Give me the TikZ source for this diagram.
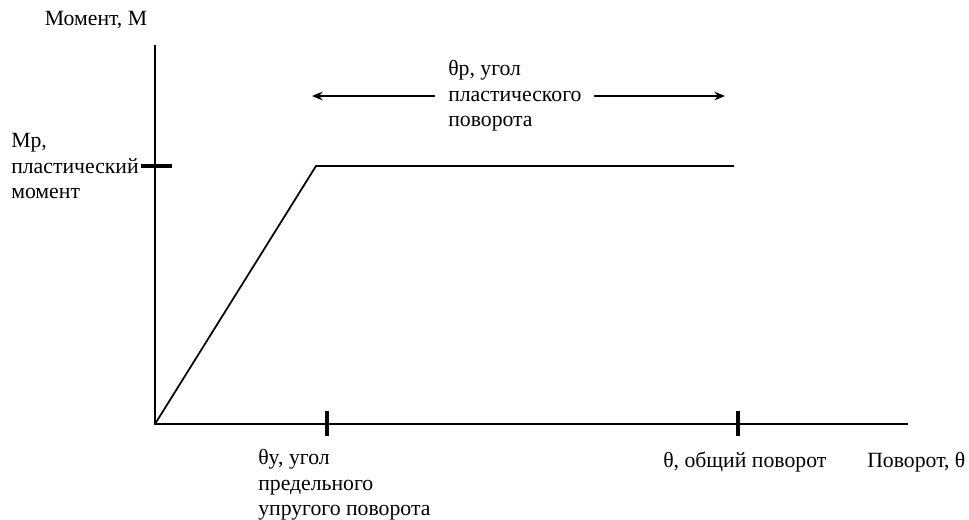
\documentclass[tikz,border=0pt]{standalone}
\usepackage{fontspec}
\setmainfont{Liberation Serif}
\usetikzlibrary{arrows.meta}
\begin{document}
\begin{tikzpicture}[x=0.75pt,y=-0.75pt,
  lbl/.style={inner sep=0pt,align=left,font=\fontsize{16.3pt}{19pt}\selectfont},
  axis/.style={line width=1.3pt},
  curve/.style={line width=1.3pt},
  tick/.style={line width=3pt},
  dimarrow/.style={line width=1.2pt,-{Stealth[length=8pt,width=6.5pt]}}]
\useasboundingbox (0,0) rectangle (969,519);
\coordinate (O) at (155,424);
\coordinate (ytop) at (155,45);
\coordinate (xend) at (908,424);
\coordinate (Y) at (316,166);
\coordinate (P) at (734,166);
\draw[axis] (ytop) -- (O) -- (xend);
\draw[curve] (O) -- (Y) -- (P);
\coordinate (mpL) at (141,166);
\coordinate (mpR) at (172,166);
\draw[tick] (mpL) -- (mpR);
\coordinate (tyT) at (327,411);
\coordinate (tyB) at (327,436);
\draw[tick] (tyT) -- (tyB);
\coordinate (ttT) at (738,411);
\coordinate (ttB) at (738,436);
\draw[tick] (ttT) -- (ttB);
\node[lbl,anchor=center] (ylab) at (96,20) {Момент, M};
\node[lbl,anchor=west] (mp) at (11,166) {Mp,\\пластический\\момент};
\node[lbl,anchor=west] (tp) at (448,96) {θp, угол\\пластического\\поворота};
\coordinate (aL) at (312,96);
\coordinate (aR) at (725,96);
\draw[dimarrow] ([xshift=-10pt]tp.west) -- (aL);
\draw[dimarrow] ([xshift=9pt]tp.east |- aL) -- (aR);
\node[lbl,anchor=west] (ty) at (258,485) {θy, угол\\предельного\\упругого поворота};
\node[lbl,anchor=west] (tt) at (663,462) {θ, общий поворот};
\node[lbl,anchor=west] (xlab) at (867,462) {Поворот, θ};
\end{tikzpicture}
\end{document}
